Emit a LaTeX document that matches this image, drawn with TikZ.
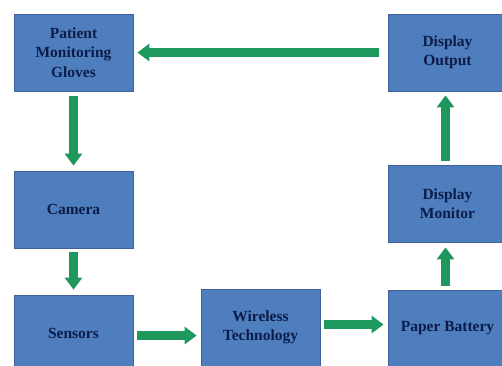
\documentclass[tikz,border=0pt]{standalone}
\usepackage{fontspec}
\setmainfont{Liberation Serif}
\usetikzlibrary{arrows.meta}
\definecolor{boxblue}{RGB}{79,126,190}
\definecolor{boxedge}{RGB}{62,98,152}
\definecolor{inkblue}{RGB}{12,28,72}
\definecolor{flowgreen}{RGB}{30,152,92}

\begin{document}
\begin{tikzpicture}[x=1pt, y=-1pt,
	blockbox/.style={draw=boxedge, line width=0.8pt, fill=boxblue, minimum width=119pt, minimum height=77pt,
		inner sep=2pt, align=center, text=inkblue, font=\fontsize{15.5}{19.5}\selectfont\bfseries},
	flow/.style={draw=flowgreen, line width=9pt, -{Triangle[length=12pt, width=17pt]}}]
\useasboundingbox (0,0) rectangle (502,365);
\clip (0,0) rectangle (502,365);

						\node [blockbox] (gloves)   at ( 73.5,  52.5) {Patient\\Monitoring\\Gloves};
						\node [blockbox] (output)   at (447.5,  52.5) {Display\\Output};
						\node [blockbox] (camera)   at ( 73.5, 209.5) {Camera};
						\node [blockbox] (monitor)  at (447.5, 203.5) {Display\\Monitor};
						\node [blockbox] (sensors)  at ( 73.5, 333.5) {Sensors};
						\node [blockbox] (wireless) at (260.5, 327.5) {Wireless\\Technology};
						\node [blockbox] (battery)  at (447.5, 328.5) {Paper Battery};

						\draw [flow, shorten <=9pt, shorten >=4pt] (output.west) -- (output.west -| gloves.east);
						\draw [flow, shorten <=5pt, shorten >=5pt] (gloves.south) -- (camera.north);
						\draw [flow, shorten <=4pt, shorten >=5pt] (camera.south) -- (sensors.north);

						\draw [flow, shorten <=4pt, shorten >=4pt] ([yshift=-2pt]sensors.east) -- ([yshift=-2pt]sensors.east -| wireless.west);
						\draw [flow, shorten <=4pt, shorten >=4pt] ([yshift=3pt]wireless.east) -- ([yshift=3pt]wireless.east -| battery.west);

						\draw [flow, shorten <=4pt, shorten >=5pt] ([xshift=-2pt]battery.north) -- ([xshift=-2pt]battery.north |- monitor.south);
						\draw [flow, shorten <=4pt, shorten >=4pt] ([xshift=-2pt]monitor.north) -- ([xshift=-2pt]monitor.north |- output.south);
\end{tikzpicture}
\end{document}
